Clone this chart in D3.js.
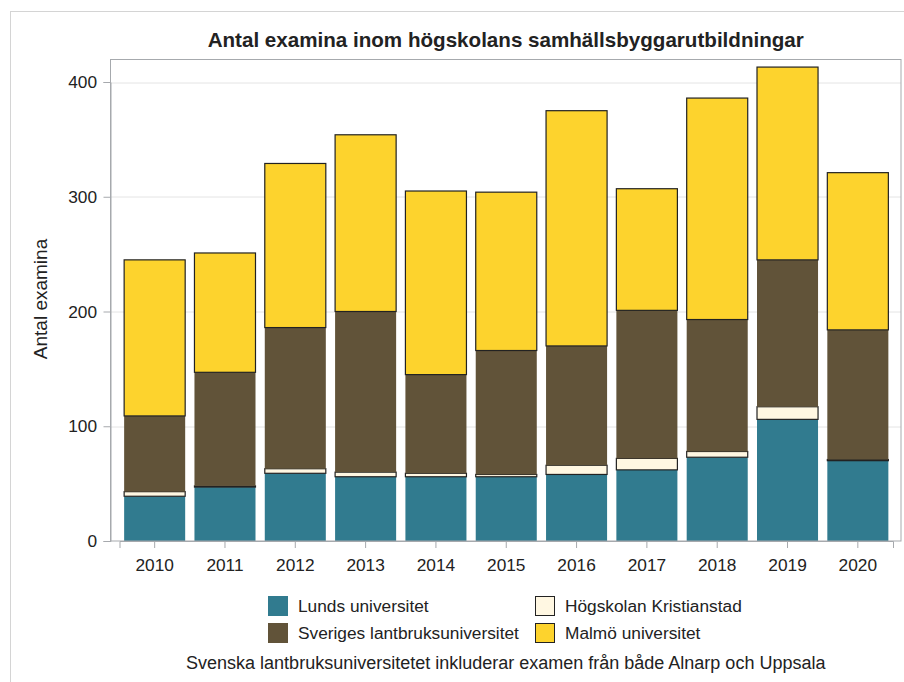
<!DOCTYPE html>
<html>
<head>
<meta charset="utf-8">
<script src="https://cdn.jsdelivr.net/npm/d3@7"></script>
<style>
  body { margin: 0; background: #fff; }
  svg text { font-family: "Liberation Sans", Arial, sans-serif; fill: #222; }
</style>
</head>
<body>
<div id="content"></div>
<script>
// Data
var years = ["2010", "2011", "2012", "2013", "2014", "2015", "2016", "2017", "2018", "2019", "2020"];
var lunds = [39, 47, 59, 56, 56, 56, 58, 62, 73, 106, 70];
var kristianstad = [4, 1, 4, 4, 3, 2, 8, 10, 5, 11, 1];
var slu = [66, 99, 123, 140, 86, 108, 104, 129, 115, 128, 113];
var malmo = [136, 104, 143, 154, 160, 138, 205, 106, 193, 168, 137];
var yTicks = [0, 100, 200, 300, 400];

var seriesNames = ["Lunds universitet", "Högskolan Kristianstad", "Sveriges lantbruksuniversitet", "Malmö universitet"];
var seriesColors = ["#317b8f", "#fff7e2", "#615339", "#fdd32d"];
var seriesStroke = ["none", "#222", "none", "#222"];

var svgWidth = 904;
var svgHeight = 682;

// Plot area
var margin = { top: 59.5, right: 3, bottom: 141, left: 110.5 },
    plotWidth = svgWidth - margin.left - margin.right,
    plotHeight = svgHeight - margin.top - margin.bottom;

var svg = d3.select("#content").append("svg")
    .attr("width", svgWidth)
    .attr("height", svgHeight);

// Outer frame
svg.append("rect")
    .attr("x", 10.5).attr("y", 11.5)
    .attr("width", svgWidth + 10).attr("height", svgHeight + 10)
    .attr("fill", "none").attr("stroke", "#d4d4d4");

// Build stacked table
var table = years.map(function (y, i) {
    return { year: y, s0: lunds[i], s1: kristianstad[i], s2: slu[i], s3: malmo[i] };
});
var stack = d3.stack().keys(["s0", "s1", "s2", "s3"]);
var layers = stack(table);

var xScale = d3.scaleBand()
    .domain(years)
    .range([9, plotWidth - 8])
    .paddingInner(0.132)
    .paddingOuter(0.066);

var yScale = d3.scaleLinear()
    .domain([0, 400])
    .range([plotHeight, plotHeight - 400 * 1.1475]);

var chart = svg.append("g")
    .attr("transform", "translate(" + margin.left + "," + margin.top + ")");

// Gridlines
chart.selectAll(".grid")
    .data(yTicks.slice(1))
    .enter().append("line")
    .attr("class", "grid")
    .attr("x1", 0).attr("x2", plotWidth)
    .attr("y1", function (d) { return Math.round(yScale(d)) + 0.5; })
    .attr("y2", function (d) { return Math.round(yScale(d)) + 0.5; })
    .attr("stroke", "#e4e4e4");

// Bars
var layerG = chart.selectAll(".layer")
    .data(layers)
    .enter().append("g")
    .attr("class", "layer")
    .attr("fill", function (d, i) { return seriesColors[i]; })
    .attr("stroke", function (d, i) { return seriesStroke[i]; })
    .attr("stroke-width", 1.2);

layerG.selectAll("rect")
    .data(function (d) { return d; })
    .enter().append("rect")
    .attr("x", function (d) { return xScale(d.data.year); })
    .attr("width", xScale.bandwidth())
    .attr("y", function (d) { return yScale(d[1]); })
    .attr("height", function (d) { return yScale(d[0]) - yScale(d[1]); });

// Plot frame
chart.append("rect")
    .attr("x", 0).attr("y", 0)
    .attr("width", plotWidth).attr("height", plotHeight)
    .attr("fill", "none").attr("stroke", "#a6a9ad");

// Axes
var xAxis = d3.axisBottom(xScale).tickSize(7).tickPadding(10.5);
var yAxis = d3.axisLeft(yScale).tickValues(yTicks).tickSize(7).tickPadding(6.5);

var gx = chart.append("g")
    .attr("transform", "translate(0," + plotHeight + ")")
    .call(xAxis);
var gy = chart.append("g").call(yAxis);

[gx, gy].forEach(function (g) {
    g.attr("font-size", 17.3).attr("font-family", "Liberation Sans, Arial, sans-serif");
    g.select(".domain").attr("stroke", "#a6a9ad");
    g.selectAll(".tick line").attr("stroke", "#a6a9ad");
    g.selectAll(".tick text").attr("fill", "#222");
});

// Title
svg.append("text")
    .attr("x", margin.left + plotWidth / 2)
    .attr("y", 47)
    .attr("text-anchor", "middle")
    .attr("font-size", 20.6)
    .attr("font-weight", "bold")
    .text("Antal examina inom högskolans samhällsbyggarutbildningar");

// Y axis title
svg.append("text")
    .attr("transform", "translate(47,299) rotate(-90)")
    .attr("text-anchor", "middle")
    .attr("font-size", 19)
    .text("Antal examina");

// Legend
var legendPos = [[268, 596], [535, 596], [268, 623], [535, 623]];
var legendIdx = [0, 1, 2, 3];
var legend = svg.selectAll(".legend")
    .data(legendIdx)
    .enter().append("g")
    .attr("class", "legend")
    .attr("transform", function (d, i) { return "translate(" + legendPos[i][0] + "," + legendPos[i][1] + ")"; });

legend.append("rect")
    .attr("x", 0.5).attr("y", 0.5)
    .attr("width", 19).attr("height", 19)
    .attr("fill", function (d) { return seriesColors[d]; })
    .attr("stroke", function (d) { return seriesStroke[d] === "none" ? seriesColors[d] : "#222"; });

legend.append("text")
    .attr("x", 30).attr("y", 16)
    .attr("font-size", 17.3)
    .text(function (d) { return seriesNames[d]; });

// Footnote
svg.append("text")
    .attr("x", margin.left + plotWidth / 2)
    .attr("y", 669)
    .attr("text-anchor", "middle")
    .attr("font-size", 18)
    .text("Svenska lantbruksuniversitetet inkluderar examen från både Alnarp och Uppsala");
</script>
</body>
</html>
